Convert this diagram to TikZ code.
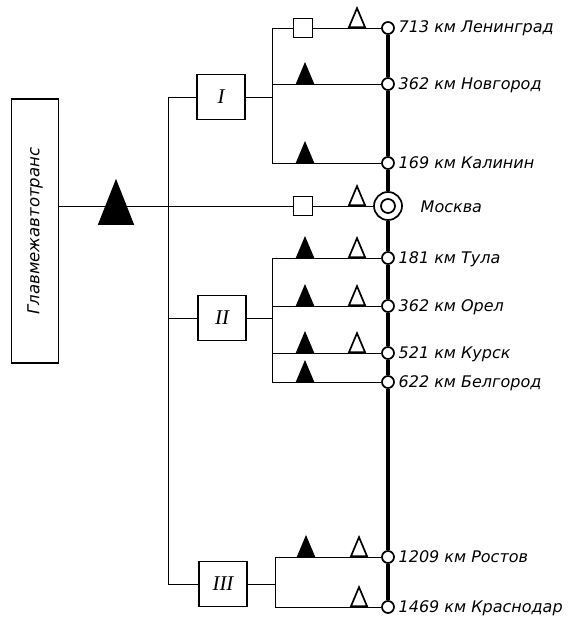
\documentclass[tikz,border=0pt]{standalone}
\usepackage{fontspec}
\newfontfamily\drawfont{DejaVu Sans}
\newfontfamily\numfont{Liberation Serif}
\usetikzlibrary{shapes.geometric,positioning,backgrounds}

\begin{document}
\begin{tikzpicture}[
  x=1pt,y=-1pt,line width=1.7pt,
  station/.style={circle,draw,fill=white,inner sep=0pt,minimum size=12pt},
  hub/.style={circle,draw,fill=white,inner sep=0pt,minimum size=28pt},
  lbl/.style={anchor=base west,inner sep=0pt,
              font=\drawfont\itshape\fontsize{16}{16}\selectfont},
  grp/.style={draw,fill=white,minimum width=48pt,minimum height=45pt,
              inner sep=0pt,font=\numfont\itshape\fontsize{21}{21}\selectfont},
  sq/.style={draw,fill=white,minimum size=19pt,inner sep=0pt},
  tri/.style={isosceles triangle,isosceles triangle stretches,
              shape border rotate=90,minimum width=16pt,minimum height=19pt,
              inner sep=0pt,anchor=south,draw},
  blk/.style={tri,fill=black},
  opn/.style={tri,fill=white},
  main/.style={line width=4.3pt}]
  \useasboundingbox (0,0) rectangle (570,618);

  % head office and the three groups
  \node[draw,rotate=90,minimum width=264pt,minimum height=47pt,
        font=\drawfont\itshape\fontsize{16.5}{16.5}\selectfont] (glav) at (35,231) {Главмежавтотранс};
  \node[grp] (one) at (221,97) {I};
  \node[grp] (two) at (222,318) {II};
  \node[grp] (three) at (223,584) {III};

  % stations on the road
  \node[station] (len) at (388,28) {};
  \node[station] (nov) at (388,84) {};
  \node[station] (kal) at (388,163) {};
  \node[hub] (msk) at (388,206) {};
  \node[circle,draw,inner sep=0pt,minimum size=14pt] (mskin) at (msk) {};
  \node[station] (tul) at (388,258) {};
  \node[station] (orl) at (388,306) {};
  \node[station] (krs) at (388,353) {};
  \node[station] (blg) at (388,382) {};
  \node[station] (rst) at (388,557) {};
  \node[station] (krd) at (388,607) {};

  \node[lbl] (lenT) at ([xshift=3pt,yshift=-5pt]len.east) {713 км Ленинград};
  \node[lbl] (novT) at ([xshift=3pt,yshift=-5pt]nov.east) {362 км Новгород};
  \node[lbl] (kalT) at ([xshift=3pt,yshift=-5pt]kal.east) {169 км Калинин};
  \node[lbl] (mskT) at ([xshift=17pt,yshift=-6pt]msk.east) {Москва};
  \node[lbl] (tulT) at ([xshift=3pt,yshift=-5pt]tul.east) {181 км Тула};
  \node[lbl] (orlT) at ([xshift=3pt,yshift=-5pt]orl.east) {362 км Орел};
  \node[lbl] (krsT) at ([xshift=3pt,yshift=-5pt]krs.east) {521 км Курск};
  \node[lbl] (blgT) at ([xshift=3pt,yshift=-5pt]blg.east) {622 км Белгород};
  \node[lbl] (rstT) at ([xshift=3pt,yshift=-5pt]rst.east) {1209 км Ростов};
  \node[lbl] (krdT) at ([xshift=3pt,yshift=-5pt]krd.east) {1469 км Краснодар};

  % markers
  \coordinate (bus) at (168,0);
  \coordinate (jI) at (272,0);
  \coordinate (jIII) at (275,0);
  \coordinate (bx) at (305,0);
  \coordinate (ox) at (357,0);
  \node[blk,minimum width=34pt,minimum height=43pt] (gtri) at (116,225) {};
  \node[sq] (len-s) at (303,28) {};
  \node[opn] (len-o) at (ox |- len) {};
  \node[blk] (nov-b) at (bx |- nov) {};
  \node[blk] (kal-b) at (bx |- kal) {};
  \node[sq] (msk-s) at (303,206) {};
  \node[opn] (msk-o) at (ox |- msk) {};
  \node[blk] (tul-b) at (bx |- tul) {};
  \node[opn] (tul-o) at (ox |- tul) {};
  \node[blk] (orl-b) at (bx |- orl) {};
  \node[opn] (orl-o) at (ox |- orl) {};
  \node[blk] (krs-b) at (bx |- krs) {};
  \node[opn] (krs-o) at (ox |- krs) {};
  \node[blk] (blg-b) at (bx |- blg) {};
  \node[blk] (rst-b) at (306,557) {};
  \node[opn] (rst-o) at (359,557) {};
  \node[opn] (krd-o) at (359,607) {};

  \begin{pgfonlayer}{background}
    \draw[main] (len) -- (nov) -- (kal) -- (msk) -- (tul) -- (orl) -- (krs)
      -- (blg) -- (rst) -- (krd);
    \draw (glav.south |- msk) -- (msk);
    \draw (one) -- (bus |- one) -- (bus |- three) -- (three);
    \draw (bus |- two) -- (two);
    % group I
    \draw (one) -- (jI |- one);
    \draw (len) -- (jI |- len) -- (jI |- kal) -- (kal);
    \draw (jI |- nov) -- (nov);
    % group II
    \draw (two) -- (jI |- two);
    \draw (tul) -- (jI |- tul) -- (jI |- blg) -- (blg);
    \draw (jI |- orl) -- (orl);
    \draw (jI |- krs) -- (krs);
    % group III
    \draw (three) -- (jIII |- three);
    \draw (rst) -- (jIII |- rst) -- (jIII |- krd) -- (krd);
  \end{pgfonlayer}
\end{tikzpicture}
\end{document}
